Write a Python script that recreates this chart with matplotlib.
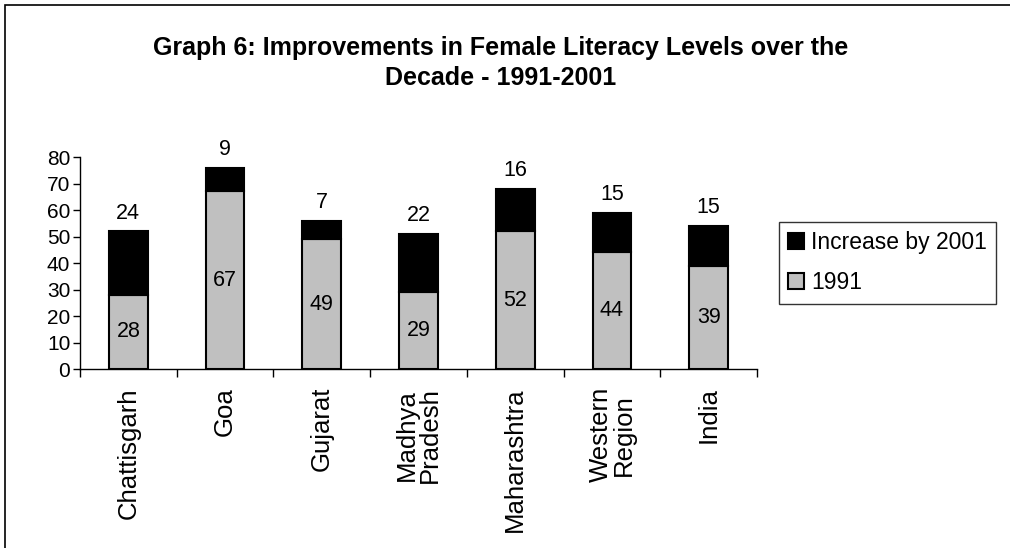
import matplotlib.pyplot as plt
import numpy as np
from matplotlib.patches import Rectangle

plt.rcParams['font.family'] = ['Liberation Sans', 'DejaVu Sans']

states = ['Chattisgarh', 'Goa', 'Gujarat', 'Madhya\nPradesh', 'Maharashtra', 'Western\nRegion', 'India']
lit_1991 = [28, 67, 49, 29, 52, 44, 39]
increase = [24, 9, 7, 22, 16, 15, 15]

fig = plt.figure(figsize=(10.1, 5.48), dpi=100)
ax = fig.add_axes([0.0792, 0.3266, 0.6703, 0.3869])

x = np.arange(len(states))
b1 = ax.bar(x, lit_1991, width=0.4, color='#c0c0c0', edgecolor='black', linewidth=1.5, label='1991')
b2 = ax.bar(x, increase, width=0.4, bottom=lit_1991, color='black', edgecolor='black', linewidth=1.5,
            label='Increase by 2001')

# labels
for i in range(len(states)):
    ax.text(x[i], lit_1991[i] / 2, str(lit_1991[i]), ha='center', va='center', fontsize=15.5)
    top = lit_1991[i] + increase[i]
    ax.annotate(str(increase[i]), (x[i], top), xytext=(0, 13), textcoords='offset points',
                ha='center', va='center', fontsize=15.5,
                bbox=dict(facecolor='white', edgecolor='none', pad=1))

ax.set_xlim(-0.5, len(states) - 0.5)
ax.set_ylim(0, 80)
ax.set_yticks(range(0, 81, 10))
ax.set_xticks(x)
ax.set_xticklabels(states, rotation=90, fontsize=18.5, linespacing=0.95)
ax.tick_params(axis='x', length=0, pad=13)
ax.set_xticks(np.arange(-0.5, len(states), 1), minor=True)
ax.tick_params(axis='x', which='minor', length=6, direction='out', width=1)
ax.tick_params(axis='y', labelsize=15, length=5, width=1, pad=2)
for s in ['top', 'right']:
    ax.spines[s].set_visible(False)
for s in ['left', 'bottom']:
    ax.spines[s].set_linewidth(1)

fig.suptitle('Graph 6: Improvements in Female Literacy Levels over the\nDecade - 1991-2001',
             x=0.496, y=0.935, fontsize=18, fontweight='bold', linespacing=1.35)

leg = ax.legend(handles=[b2, b1], loc='upper left', bbox_to_anchor=(779 / 1010, 1 - 222 / 548),
                bbox_transform=fig.transFigure, fontsize=16.5, frameon=True, fancybox=False,
                handlelength=0.7, handleheight=0.7, handletextpad=0.3, borderaxespad=0,
                labelspacing=0.75, borderpad=0.4)
leg.get_frame().set_edgecolor('black')
leg.get_frame().set_linewidth(1)

fig.patches.append(Rectangle((5 / 1010, -0.2), 1.2, 1.2 - 5 / 548, transform=fig.transFigure,
                             fill=False, edgecolor='black', linewidth=1.2))

fig.savefig('out.png', dpi=100)
